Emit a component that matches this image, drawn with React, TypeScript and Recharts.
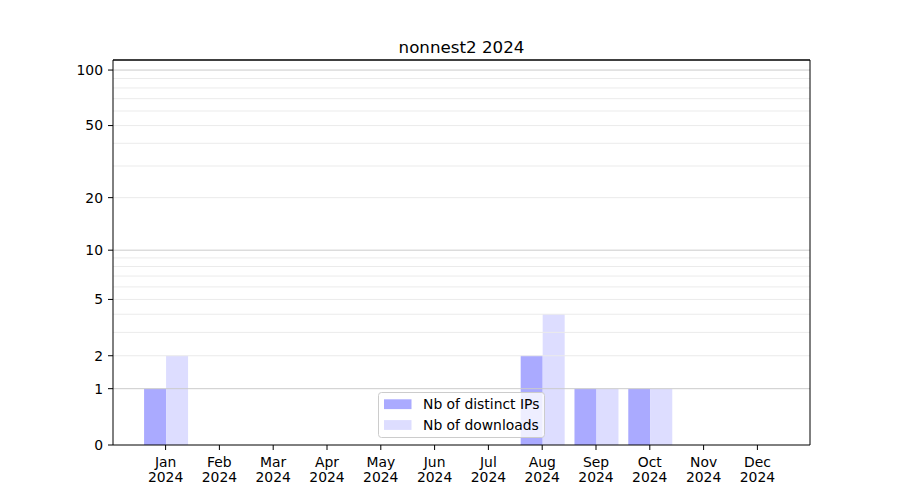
import React from 'react';
import { BarChart, Bar, XAxis, YAxis, ReferenceLine, Legend } from 'recharts';

const months = ['Jan', 'Feb', 'Mar', 'Apr', 'May', 'Jun', 'Jul', 'Aug', 'Sep', 'Oct', 'Nov', 'Dec'];
const year = '2024';
const distinctIPs = [1, 0, 0, 0, 0, 0, 0, 2, 1, 1, 0, 0];
const downloads = [2, 0, 0, 0, 0, 0, 0, 4, 1, 1, 0, 0];
const yTickValues = [0, 1, 2, 5, 10, 20, 50, 100];
const majorGrid = [1, 10, 100];
const minorGrid = [2, 3, 4, 5, 6, 7, 8, 9, 20, 30, 40, 50, 60, 70, 80, 90];
const yMax = 113.3;
const title = 'nonnest2 2024';
const seriesNames = ['Nb of distinct IPs', 'Nb of downloads'];
const seriesColors = ['#aaaaff', '#ddddff'];

const FONT = 'DejaVu Sans';
const tf = (v: number) => Math.log10(v + 1);

const data = months.map((m, i) => ({
  month: m,
  ips: tf(distinctIPs[i]),
  dl: tf(downloads[i]),
}));

const MonthTick = (props: any) => {
  const { x, y, payload } = props;
  return (
    <g>
      <text x={x} y={y + 17} textAnchor="middle" fontFamily={FONT} fontSize={13.9} fill="#000">
        {payload.value}
      </text>
      <text x={x} y={y + 31.5} textAnchor="middle" fontFamily={FONT} fontSize={13.9} fill="#000">
        {year}
      </text>
    </g>
  );
};

const LegendBox = (props: any) => {
  const payload = props.payload || [];
  return (
    <svg width={167} height={46} style={{ display: 'block', overflow: 'visible' }}>
      <rect x={0.5} y={0.5} width={166} height={45} rx={3} ry={3} fill="#fff" fillOpacity={0.8} stroke="#cccccc" strokeWidth={1} />
      {payload.map((p: any, i: number) => (
        <g key={i}>
          <rect x={6} y={7.3 + i * 20.8} width={27.5} height={9.8} fill={p.color} />
          <text x={45} y={17.3 + i * 20.8} fontFamily={FONT} fontSize={13.9} fill="#000">
            {p.value}
          </text>
        </g>
      ))}
    </svg>
  );
};

export default function App() {
  const fmt = (v: number) => {
    const f = yTickValues.find((t) => Math.abs(tf(t) - v) < 1e-6);
    return f === undefined ? '' : String(f);
  };
  return (
    <div style={{ position: 'absolute', left: 0, top: 0, width: 900, height: 500, background: '#fff' }}>
      <BarChart
        width={900}
        height={500}
        data={data}
        margin={{ top: 59, right: 89, bottom: 15, left: 53 }}
        barCategoryGap="10%"
        barGap={0}
      >
        <XAxis
          dataKey="month"
          interval={0}
          padding={{ left: 25.7, right: 25.7 }}
          height={40}
          tickSize={5}
          tickMargin={0}
          tickLine={{ stroke: '#000' }}
          axisLine={{ stroke: '#000' }}
          tick={<MonthTick />}
        />
        <XAxis
          xAxisId="top"
          dataKey="month"
          orientation="top"
          height={1}
          tick={false}
          tickLine={false}
          axisLine={{ stroke: '#000' }}
        />
        <YAxis
          type="number"
          domain={[0, tf(yMax)]}
          allowDataOverflow
          ticks={yTickValues.map(tf)}
          interval={0}
          tickFormatter={fmt}
          width={60}
          tickSize={5}
          tickMargin={5}
          tickLine={{ stroke: '#000' }}
          axisLine={{ stroke: '#000' }}
          tick={{ fill: '#000', fontSize: 13.9, fontFamily: FONT }}
        />
        <YAxis
          yAxisId="right"
          orientation="right"
          width={1}
          domain={[0, tf(yMax)]}
          tick={false}
          tickLine={false}
          axisLine={{ stroke: '#000' }}
        />
        <Bar dataKey="ips" name={seriesNames[0]} fill={seriesColors[0]} isAnimationActive={false} />
        <Bar dataKey="dl" name={seriesNames[1]} fill={seriesColors[1]} isAnimationActive={false} />
        {minorGrid.map((v) => (
          <ReferenceLine key={'m' + v} y={tf(v)} stroke="#ebebeb" strokeWidth={1} />
        ))}
        {majorGrid.map((v) => (
          <ReferenceLine key={'M' + v} y={tf(v)} stroke="#cbcbcb" strokeWidth={1} />
        ))}
        <ReferenceLine y={tf(yMax)} stroke="#000" strokeWidth={1} />
        <Legend
          layout="vertical"
          align="center"
          verticalAlign="middle"
          content={<LegendBox />}
          wrapperStyle={{ left: 378, top: 392, width: 167, height: 46 }}
        />
      </BarChart>
      <svg
        width={900}
        height={500}
        style={{ position: 'absolute', left: 0, top: 0, pointerEvents: 'none' }}
      >
        <text x={461.5} y={52.5} textAnchor="middle" fontFamily={FONT} fontSize={16.7} fill="#000">
          {title}
        </text>
      </svg>
    </div>
  );
}
